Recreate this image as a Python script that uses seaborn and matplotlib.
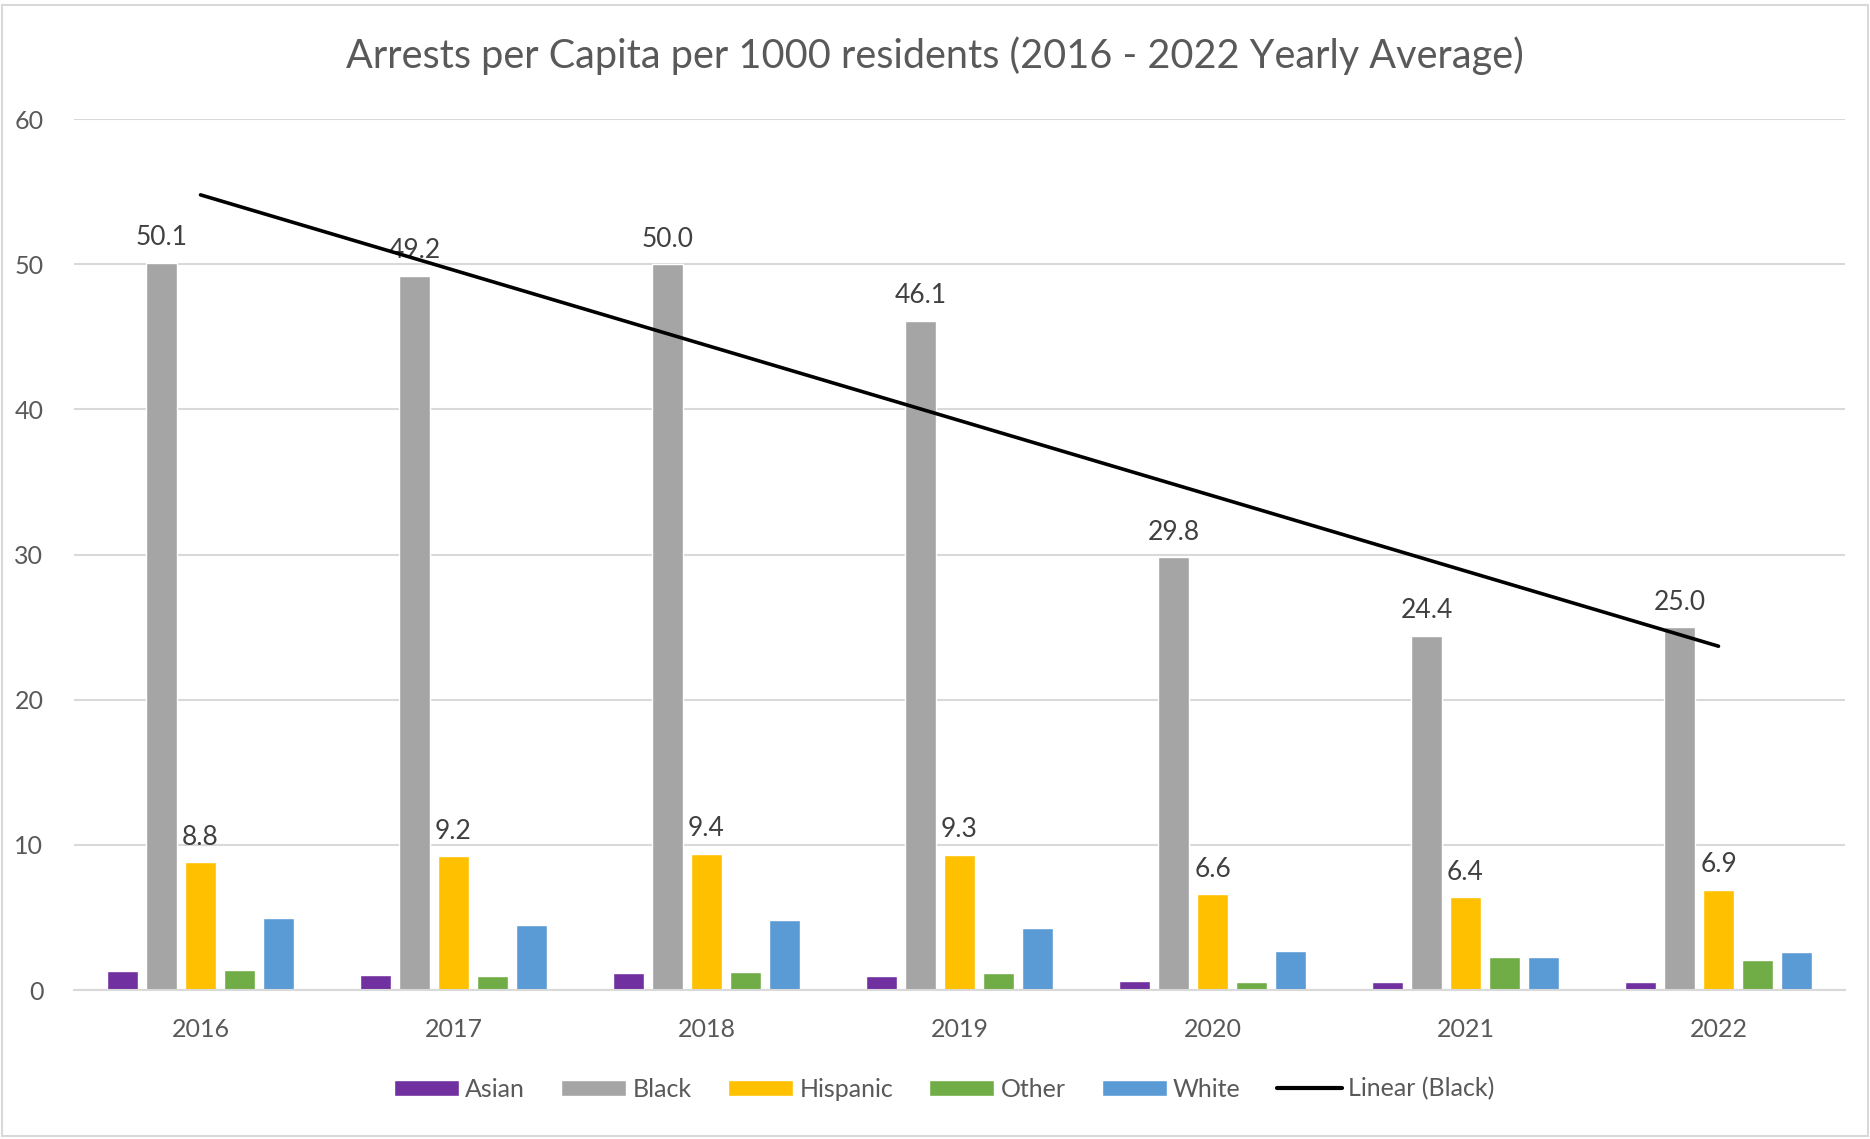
import numpy as np
import pandas as pd
import matplotlib
matplotlib.use("Agg")
import matplotlib.pyplot as plt
from matplotlib.patches import Patch, Rectangle
from matplotlib.lines import Line2D
import seaborn as sns

# Datos
years = ["2016", "2017", "2018", "2019", "2020", "2021", "2022"]
groups = ["Asian", "Black", "Hispanic", "Other", "White"]
asian = [1.3, 1.0, 1.15, 0.95, 0.65, 0.55, 0.57]
black = [50.1, 49.2, 50.0, 46.1, 29.8, 24.4, 25.0]
hispanic = [8.8, 9.2, 9.4, 9.3, 6.6, 6.4, 6.9]
other = [1.35, 0.95, 1.25, 1.15, 0.55, 2.3, 2.05]
white = [4.95, 4.5, 4.8, 4.3, 2.7, 2.3, 2.65]
colors = ["#7030A0", "#A5A5A5", "#FFC000", "#70AD47", "#5B9BD5"]

sns.set_theme(style="white")
plt.rcParams["font.family"] = ["Lato", "DejaVu Sans"]

df = pd.DataFrame({"Year": years * 5,
                   "Group": [g for g in groups for _ in years],
                   "Rate": asian + black + hispanic + other + white})

fig = plt.figure(figsize=(18.7, 11.39), dpi=100)
ax = fig.add_axes([74 / 1870, 1 - 990 / 1139, 1771 / 1870, 871 / 1139])

sns.barplot(data=df, x="Year", y="Rate", hue="Group", hue_order=groups,
            palette=colors, saturation=1, width=0.77, gap=0.2,
            edgecolor="white", linewidth=1, ax=ax, legend=False)

# etiquetas solo para Black e Hispanic
for i in (1, 2):
    ax.bar_label(ax.containers[i], fmt="%.1f", padding=9, fontsize=19,
                 color="#404040")

# linea de tendencia (regresion lineal sobre Black)
xs = np.arange(len(years))
m, b = np.polyfit(xs, black, 1)
ax.plot(xs, m * xs + b, color="black", lw=2.6, zorder=5)

ax.set_ylim(0, 60)
ax.set_xlim(-0.5, 6.5)
ax.set_yticks(range(0, 61, 10))
ax.grid(axis="y", color="#D9D9D9", lw=1.5)
ax.set_axisbelow(True)
for s in ["top", "right", "left"]:
    ax.spines[s].set_visible(False)
ax.spines["bottom"].set_color("#D9D9D9")
ax.spines["bottom"].set_linewidth(1.5)
ax.tick_params(axis="both", length=0, labelsize=18, colors="#595959")
ax.tick_params(axis="x", pad=20)
ax.tick_params(axis="y", pad=22)
ax.set_xlabel("")
ax.set_ylabel("")

fig.text(0.5, 1 - 56 / 1139, "Arrests per Capita per 1000 residents (2016 - 2022 Yearly Average)",
         ha="center", va="center", fontsize=28.5, color="#595959")

handles = [Patch(facecolor=c, edgecolor="white") for c in colors]
handles.append(Line2D([0], [0], color="black", lw=3))
fig.legend(handles, groups + ["Linear (Black)"], loc="center",
           bbox_to_anchor=(0.505, 1 - 1089 / 1139), ncol=6, frameon=False,
           fontsize=18, labelcolor="#595959", handlelength=2.6,
           handleheight=0.65, handletextpad=0.25, columnspacing=1.45)

# borde del area del grafico
fig.patches.append(Rectangle((0.001, 1 - 1136 / 1139), 0.998, 1 - 5 / 1139 - (1 - 1136 / 1139),
                             transform=fig.transFigure, fill=False,
                             edgecolor="#D9D9D9", lw=1.5))

fig.savefig("out.png", dpi=100)
